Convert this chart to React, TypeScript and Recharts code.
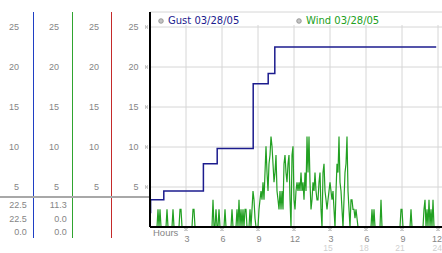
import React from "react";
import {
  ComposedChart,
  Line,
  XAxis,
  YAxis,
  CartesianGrid,
  ReferenceLine,
  Legend,
  Label,
} from "recharts";

// gust: hour at which each value starts (step line)
const gustHours = [0, 0.05, 1.15, 4.45, 5.6, 8.6, 9.85, 10.4, 23.85];
const gustValues = [1.8, 3.4, 4.5, 7.9, 9.8, 17.9, 19.2, 22.5, 22.5];

// wind: 5-minute samples, one row per hour
const windRows = [
  [0, 0, 0, 0, 0, 0, 0, 0, 2.2, 0, 2.2, 0],
  [0, 0, 0, 0, 0, 2.2, 0, 0, 0, 0, 0, 2.2],
  [0, 0, 0, 0, 0, 0, 2.2, 2.2, 0, 0, 0, 0],
  [0, 0, 0, 0, 0, 0, 0, 2.2, 2.2, 0, 0, 0],
  [0, 0, 0, 0, 0, 0, 0, 0, 0, 0, 0, 0],
  [0, 0, 0, 3.4, 0, 0, 2.2, 0, 0, 2.2, 0, 0],
  [0, 0, 0, 2.2, 0, 0, 0, 0, 0, 0, 2.2, 0],
  [0, 0, 0, 2.2, 0, 3.4, 0, 2.2, 0, 2.2, 0, 2.2],
  [2.2, 0, 0, 0, 2.2, 0, 2.2, 4.5, 3.4, 1.1, 0, 0],
  [0, 2.2, 3.4, 4.5, 3.4, 5.6, 3.4, 6.8, 10.1, 6.8, 4.5, 7.9],
  [9.0, 11.3, 10.1, 7.9, 5.6, 6.8, 9.0, 4.5, 3.4, 2.2, 4.5, 2.2],
  [4.5, 2.2, 7.9, 9.0, 6.8, 5.6, 7.9, 9.0, 3.4, 0, 9.0, 10.1],
  [3.4, 2.2, 4.5, 5.6, 4.5, 5.6, 4.5, 6.8, 4.5, 5.6, 3.4, 6.8],
  [4.5, 11.3, 6.8, 11.3, 5.6, 2.2, 3.4, 5.6, 4.5, 6.8, 4.5, 3.4],
  [3.4, 5.6, 6.8, 2.2, 0, 6.8, 7.9, 4.5, 3.4, 2.2, 3.4, 4.5],
  [5.6, 4.5, 3.4, 4.5, 2.2, 0, 4.5, 7.9, 6.8, 11.3, 5.6, 4.5],
  [2.2, 0, 3.4, 6.8, 7.9, 11.3, 4.5, 2.2, 0, 3.4, 3.4, 2.2],
  [2.2, 1.1, 2.2, 1.1, 0, 0, 0, 0, 0, 0, 0, 0],
  [0, 0, 0, 0, 0, 0, 2.2, 0, 2.2, 0, 0, 0],
  [0, 0, 0, 3.4, 0, 0, 0, 0, 0, 0, 0, 0],
  [0, 0, 0, 0, 0, 0, 0, 0, 0, 0, 0, 2.2],
  [2.2, 0, 0, 0, 0, 0, 0, 0, 0, 2.2, 0, 0],
  [0, 0, 0, 0, 0, 0, 0, 0, 0, 0, 2.2, 3.4],
  [0, 2.2, 0, 3.4, 0, 2.2, 0, 3.4, 0, 0, 0, 0],
];
const windLast = 0;

const xTicks = [3, 6, 9, 12, 15, 18, 21, 24];
const xLabels = ["3", "6", "9", "12", "3", "6", "9", "12"];
const xLabels2 = ["", "", "", "", "15", "18", "21", "24"];
const yTicks = [5, 10, 15, 20, 25];

const gustStats = ["22.5", "22.5", "0.0"];
const windStats = ["11.3", "0.0", "0.0"];

const GUST = "#1c1c8e";
const WIND = "#22a022";
const GRID = "#d6d6d6";
const TXT = "#858585";
const NUM_FONT = "'Liberation Sans', Arial, sans-serif";
const LEG_FONT = "'DejaVu Sans', Verdana, sans-serif";

const gustData = gustHours.map((h, i) => ({ h, v: gustValues[i] }));
const windData = [...windRows.flat(), windLast].map((v, i) => ({ h: i / 12, v }));

function Glyph({ x, y }: { x: number; y: number }) {
  const pts = [
    [0, 0],
    [2, 0],
    [1, 1],
    [0, 2],
    [2, 2],
  ];
  return (
    <g fill="#9a9a9a">
      {pts.map(([dx, dy], i) => (
        <rect key={i} x={x + dx} y={y + dy} width={1} height={1} />
      ))}
    </g>
  );
}

const YTick = (props: any) => {
  const { x, y, payload, gap, glyph } = props;
  return (
    <g>
      <text
        x={x - gap}
        y={y}
        dy="0.35em"
        textAnchor="end"
        fontSize={9}
        fontFamily={NUM_FONT}
        fill={TXT}
      >
        {payload.value}
      </text>
      {glyph && <Glyph x={x - 5} y={y - 1.5} />}
    </g>
  );
};

const XTick = (props: any) => {
  const { x, y, index } = props;
  const last = index === xTicks.length - 1;
  return (
    <g>
      <Glyph x={x - 1.5} y={y + 1} />
      <text
        x={last ? x + 4 : x + 1}
        y={y + 14.8}
        textAnchor={last ? "end" : "middle"}
        fontSize={9}
        fontFamily={NUM_FONT}
        fill={TXT}
      >
        {xLabels[index]}
      </text>
      {xLabels2[index] && (
        <text
          x={last ? x + 4 : x - 2}
          y={y + 24.2}
          textAnchor={last ? "end" : "middle"}
          fontSize={8.5}
          fontFamily={NUM_FONT}
          fill="#cfcfcf"
        >
          {xLabels2[index]}
        </text>
      )}
    </g>
  );
};

const LegendContent = (props: any) => {
  const items = [...(props.payload || [])].sort((a: any) =>
    String(a.value).startsWith("Gust") ? -1 : 1
  );
  return (
    <div style={{ position: "relative", width: 292, height: 16 }}>
      {items.map((it: any, i: number) => (
        <div
          key={i}
          style={{
            position: "absolute",
            left: i === 0 ? 8 : 146,
            top: 0,
            display: "flex",
            alignItems: "center",
            fontFamily: LEG_FONT,
            fontSize: 10,
            color: it.color,
            whiteSpace: "nowrap",
            lineHeight: "16px",
          }}
        >
          <svg width={8} height={8} style={{ marginRight: 2 }}>
            <circle cx={3} cy={4} r={2.3} fill="#c4c4c4" stroke="#8c8c8c" strokeWidth={0.8} />
          </svg>
          {it.value}
        </div>
      ))}
    </div>
  );
};

export default function App() {
  // recharts stacks same-side axes by id; "a" sits next to the plot
  const sideAxis = (id: string, width: number, gap: number) => (
    <YAxis
      key={id}
      yAxisId={id}
      width={width}
      domain={[0, 26.875]}
      ticks={yTicks}
      allowDataOverflow
      axisLine={false}
      tickLine={false}
      tickSize={0}
      tickMargin={0}
      tick={<YTick gap={gap} />}
    />
  );

  return (
    <div style={{ position: "absolute", left: 0, top: 0, width: 442, height: 253, background: "#fff" }}>
      <ComposedChart width={442} height={253} margin={{ top: 12, right: 0, bottom: 0, left: 0 }}>
        <CartesianGrid yAxisId="a" vertical={false} stroke={GRID} />
        {xTicks.map((t) => (
          <ReferenceLine
            key={t}
            yAxisId="a"
            segment={[
              { x: t, y: 0 },
              { x: t, y: 25.25 },
            ]}
            stroke={GRID}
          />
        ))}
        <XAxis
          dataKey="h"
          type="number"
          domain={[0, 24.333]}
          ticks={xTicks}
          interval={0}
          allowDataOverflow
          height={26}
          axisLine={{ stroke: "#000", strokeWidth: 2 }}
          tickLine={false}
          tickSize={0}
          tickMargin={0}
          tick={<XTick />}
        >
          <Label
            content={({ viewBox }: any) => (
              <text
                x={viewBox.x + 3}
                y={viewBox.y + 8.5}
                fontSize={9.5}
                fontFamily={NUM_FONT}
                fill={TXT}
              >
                Hours
              </text>
            )}
          />
        </XAxis>
        <YAxis
          yAxisId="a"
          width={39}
          domain={[0, 26.875]}
          ticks={yTicks}
          allowDataOverflow
          axisLine={{ stroke: "#000", strokeWidth: 2 }}
          tickLine={false}
          tickSize={0}
          tickMargin={0}
          tick={<YTick gap={11.5} glyph />}
        />
        {sideAxis("b", 39, 12)}
        {sideAxis("c", 39, 13)}
        {sideAxis("d", 33, 14)}
        <Legend
          layout="horizontal"
          verticalAlign="middle"
          align="center"
          wrapperStyle={{ top: 13, left: 150, width: 292 }}
          content={<LegendContent />}
        />
        <Line
          yAxisId="a"
          name="Wind 03/28/05"
          data={windData}
          dataKey="v"
          type="linear"
          stroke={WIND}
          strokeWidth={1.2}
          dot={false}
          isAnimationActive={false}
        />
        <Line
          yAxisId="a"
          name="Gust 03/28/05"
          data={gustData}
          dataKey="v"
          type="stepAfter"
          stroke={GUST}
          strokeWidth={1.5}
          dot={false}
          isAnimationActive={false}
        />
      </ComposedChart>
      <svg
        width={442}
        height={253}
        style={{ position: "absolute", left: 0, top: 0, pointerEvents: "none" }}
      >
        <line x1={33.5} x2={33.5} y1={12} y2={238} stroke="#1f3fc4" />
        <line x1={72.5} x2={72.5} y1={12} y2={238} stroke="#2fa42f" />
        <line x1={111.5} x2={111.5} y1={12} y2={238} stroke="#c42a2a" />
        <rect x={0} y={196} width={149} height={2} fill="#a8a8a8" />
        {gustStats.map((s, i) => (
          <text
            key={"g" + i}
            x={26.7}
            y={208.3 + i * 13.4}
            textAnchor="end"
            fontSize={9}
            fontFamily={NUM_FONT}
            fill={TXT}
          >
            {s}
          </text>
        ))}
        {windStats.map((s, i) => (
          <text
            key={"w" + i}
            x={66.7}
            y={208.3 + i * 13.4}
            textAnchor="end"
            fontSize={9}
            fontFamily={NUM_FONT}
            fill={TXT}
          >
            {s}
          </text>
        ))}
      </svg>
    </div>
  );
}
